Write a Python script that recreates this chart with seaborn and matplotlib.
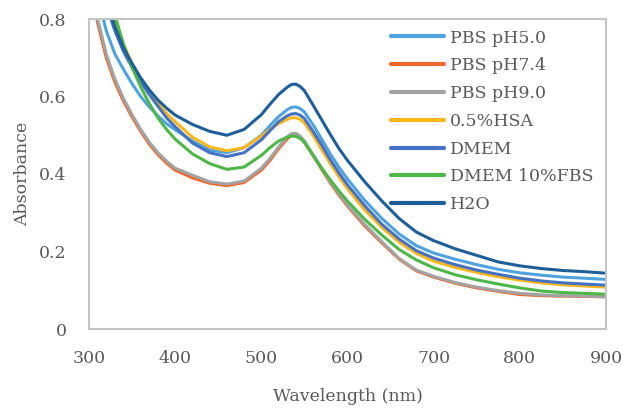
import numpy as np
import pandas as pd
import seaborn as sns
import matplotlib
matplotlib.use("Agg")
import matplotlib.pyplot as plt

# ==============================================================================
# UV-Vis absorbance spectra in different media
# ==============================================================================

wavelength = [300, 310, 320, 330, 340, 350, 360, 370, 380, 390, 400, 420, 440, 460,
              480, 500, 510, 520, 530, 535, 540, 545, 550, 560, 570, 580, 590, 600, 620,
              640, 660, 680, 700, 725, 750, 775, 800, 825, 850, 875, 900]

pbs_50 = [1.00, 0.86, 0.77, 0.71, 0.67, 0.633, 0.60, 0.573, 0.55, 0.53, 0.514, 0.485,
          0.462, 0.455, 0.468, 0.50, 0.525, 0.548, 0.566, 0.572, 0.573, 0.569, 0.56, 0.527,
          0.49, 0.452, 0.418, 0.387, 0.332, 0.285, 0.245, 0.215, 0.196, 0.18, 0.166,
          0.154, 0.145, 0.139, 0.134, 0.131, 0.128]
pbs_74 = [0.92, 0.79, 0.70, 0.637, 0.588, 0.547, 0.51, 0.477, 0.45, 0.428, 0.41, 0.39,
          0.376, 0.37, 0.378, 0.41, 0.435, 0.465, 0.491, 0.499, 0.50, 0.495, 0.482, 0.448,
          0.412, 0.377, 0.346, 0.317, 0.266, 0.222, 0.18, 0.15, 0.134, 0.118, 0.106,
          0.097, 0.089, 0.086, 0.085, 0.084, 0.083]
pbs_90 = [0.93, 0.80, 0.71, 0.645, 0.595, 0.553, 0.515, 0.482, 0.455, 0.433, 0.415, 0.397,
          0.38, 0.374, 0.382, 0.415, 0.44, 0.47, 0.496, 0.504, 0.505, 0.498, 0.485, 0.45,
          0.415, 0.38, 0.35, 0.32, 0.27, 0.225, 0.182, 0.152, 0.136, 0.12, 0.108,
          0.099, 0.092, 0.088, 0.086, 0.085, 0.083]
hsa = [1.12, 0.99, 0.88, 0.80, 0.735, 0.685, 0.645, 0.612, 0.583, 0.556, 0.535, 0.495,
       0.47, 0.46, 0.468, 0.498, 0.515, 0.53, 0.541, 0.545, 0.545, 0.541, 0.532, 0.50,
       0.463, 0.427, 0.393, 0.362, 0.307, 0.262, 0.224, 0.195, 0.175, 0.159, 0.146,
       0.135, 0.126, 0.119, 0.114, 0.111, 0.108]
dmem = [1.05, 0.92, 0.835, 0.77, 0.716, 0.675, 0.638, 0.605, 0.575, 0.545, 0.522, 0.48,
        0.455, 0.445, 0.455, 0.488, 0.512, 0.535, 0.55, 0.555, 0.556, 0.552, 0.543, 0.51,
        0.475, 0.437, 0.403, 0.372, 0.318, 0.27, 0.232, 0.202, 0.183, 0.166, 0.152,
        0.141, 0.131, 0.124, 0.119, 0.116, 0.113]
dmem_fbs = [1.12, 0.99, 0.89, 0.81, 0.735, 0.675, 0.625, 0.582, 0.545, 0.515, 0.49, 0.452,
            0.427, 0.412, 0.418, 0.448, 0.468, 0.485, 0.495, 0.498, 0.497, 0.492, 0.482,
            0.448, 0.415, 0.385, 0.356, 0.33, 0.283, 0.242, 0.205, 0.178, 0.158, 0.14,
            0.127, 0.116, 0.106, 0.098, 0.094, 0.092, 0.09]
h2o = [1.10, 0.96, 0.86, 0.78, 0.725, 0.685, 0.648, 0.617, 0.591, 0.57, 0.552, 0.528,
       0.51, 0.50, 0.515, 0.553, 0.58, 0.605, 0.624, 0.631, 0.632, 0.626, 0.615, 0.578,
       0.54, 0.502, 0.466, 0.435, 0.38, 0.33, 0.285, 0.25, 0.228, 0.207, 0.19,
       0.173, 0.163, 0.156, 0.151, 0.148, 0.144]

media = ["PBS pH5.0", "PBS pH7.4", "PBS pH9.0", "0.5%HSA", "DMEM", "DMEM 10%FBS", "H2O"]
series = [pbs_50, pbs_74, pbs_90, hsa, dmem, dmem_fbs, h2o]
colors = ["#4EA3DE", "#F0672D", "#A3A3A3", "#FDB71A", "#4472C4", "#4DB848", "#1F5F99"]

# long-form table for seaborn
df = pd.concat([pd.DataFrame({"Wavelength": wavelength, "Absorbance": vals, "Medium": name})
                for name, vals in zip(media, series)], ignore_index=True)

sns.set_style("white")
plt.rcParams["font.family"] = ["DejaVu Serif"]
text_color = "#595959"

fig = plt.figure(figsize=(6.23, 4.09), dpi=100)
ax = fig.add_axes([89 / 623, 1 - 329 / 409, 517 / 623, 310 / 409])

sns.lineplot(data=df, x="Wavelength", y="Absorbance", hue="Medium", hue_order=media,
             palette=dict(zip(media, colors)), linewidth=2.2, ax=ax, sort=True)
for line in ax.get_lines():
    line.set_solid_joinstyle("round")

ax.set_xlim(300, 900)
ax.set_ylim(0, 0.8)
ax.set_xticks([300, 400, 500, 600, 700, 800, 900])
ax.set_yticks([0, 0.2, 0.4, 0.6, 0.8])
ax.set_yticklabels(["0", "0.2", "0.4", "0.6", "0.8"])
ax.tick_params(length=0, labelsize=12.5, labelcolor=text_color)
ax.tick_params(axis="y", pad=16)
ax.tick_params(axis="x", pad=15)
ax.set_xlabel("Wavelength (nm)", fontsize=12.5, color=text_color, labelpad=15)
ax.set_ylabel("Absorbance", fontsize=12.5, color=text_color, labelpad=6)

for side in ax.spines.values():
    side.set_color("#C4C4C4")
    side.set_linewidth(1.5)

handles, labels = ax.get_legend_handles_labels()
leg = ax.legend(handles, labels, loc="upper left", bbox_to_anchor=(0.585, 0.966),
                frameon=False, fontsize=12.5, handlelength=3.05, handletextpad=0.3,
                labelspacing=0.62, borderpad=0, borderaxespad=0)
for line in leg.get_lines():
    line.set_linewidth(3.0)
for txt in leg.get_texts():
    txt.set_color(text_color)

plt.savefig("out.png", dpi=100)
